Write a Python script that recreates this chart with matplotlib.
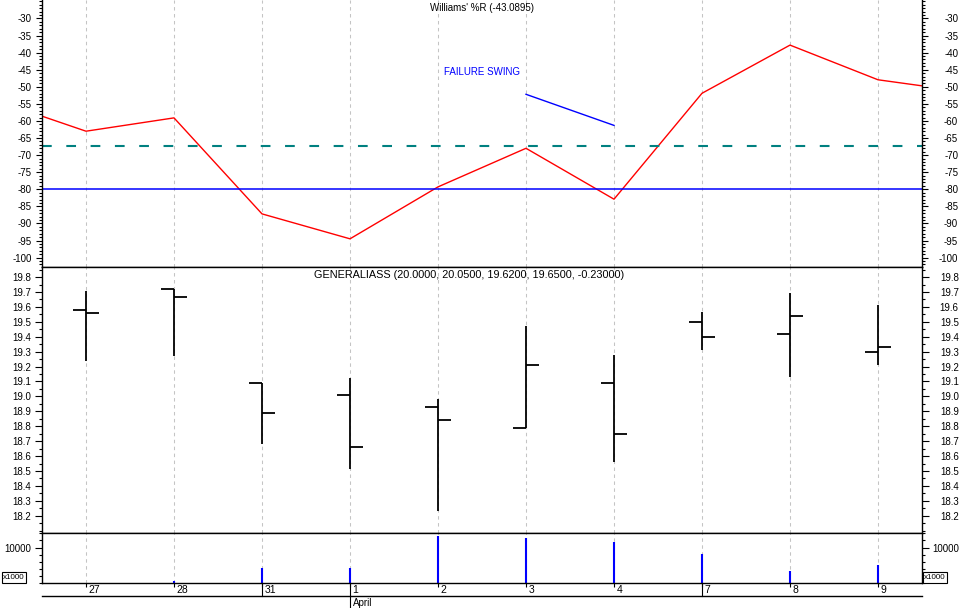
import matplotlib
matplotlib.use('Agg')
import matplotlib.pyplot as plt
import matplotlib.transforms as mtrans
from matplotlib.ticker import FixedLocator, MultipleLocator, FormatStrFormatter
import numpy as np

plt.rcParams['font.family'] = ['Liberation Sans', 'DejaVu Sans']
plt.rcParams['axes.unicode_minus'] = False
plt.rcParams['lines.scale_dashes'] = False

# trading days shown
dates = ['27', '28', '31', '1', '2', '3', '4', '7', '8', '9']
week_starts = [2, 7]      # index of mondays (long tick)
month_start = 3           # 1 April
month_name = 'April'

# Williams %R, one value before and after the window so the line runs off the edges
wr_x = list(range(-1, 11))
wr = [-54.2, -63.0, -59.1, -87.2, -94.5, -79.3, -68.0, -82.9, -51.9, -37.8, -47.95, -51.5]
wr_level = -80
wr_avg = -67.3
swing_x = [5, 6]
swing_y = [-52.2, -61.3]

# price bars
opens = [19.58, 19.72, 19.09, 19.01, 18.93, 18.79, 19.09, 19.50, 19.42, 19.30]
highs = [19.71, 19.72, 19.09, 19.12, 18.98, 19.47, 19.28, 19.565, 19.69, 19.61]
lows = [19.24, 19.27, 18.68, 18.51, 18.23, 18.79, 18.56, 19.31, 19.13, 19.21]
closes = [19.56, 19.665, 18.89, 18.66, 18.84, 19.21, 18.75, 19.40, 19.54, 19.33]

# volume (x1000)
volume = [0, 650, 4230, 4230, 13130, 12760, 11440, 8250, 3270, 4960]

W, H = 964, 608
fig = plt.figure(figsize=(W / 100, H / 100), dpi=100)


def px_axes(top, bottom, **kw):
    return fig.add_axes([42 / W, 1 - bottom / H, 880 / W, (bottom - top) / H], **kw)


def y_axis(ax, lim, major, minor, fmt, maj_len=4.5):
    """ticks + labels on both sides, right labels right-aligned"""
    tw = ax.twinx()
    for a in (ax, tw):
        a.set_ylim(lim)
        a.yaxis.set_major_locator(FixedLocator(major))
        a.yaxis.set_minor_locator(MultipleLocator(minor))
        a.yaxis.set_major_formatter(FormatStrFormatter(fmt))
        a.tick_params(axis='y', which='both', direction='out', labelsize=7, width=0.8)
        a.tick_params(axis='y', which='major', length=maj_len)
        a.tick_params(axis='y', which='minor', length=2)
    ax.tick_params(axis='y', which='major', pad=3)
    tw.tick_params(axis='y', which='major', pad=21.5)
    for t in tw.yaxis.get_major_ticks():
        t.label2.set_horizontalalignment('right')
    for s in tw.spines.values():
        s.set_visible(False)
    tw.tick_params(axis='x', which='both', bottom=False, labelbottom=False)
    return tw


ax_wr = px_axes(0, 266.5)
ax_px = px_axes(266.5, 533, sharex=ax_wr)
ax_vol = px_axes(533, 583, sharex=ax_wr)

x = np.arange(len(dates))
for ax in (ax_wr, ax_px, ax_vol):
    ax.set_xlim(-0.5, 9.5)
    ax.set_xticks(x)
    ax.grid(True, axis='x', color='#c4c4c4', lw=0.75, ls=(0, (2.5, 2.5)))
    ax.set_axisbelow(True)
    for s in ax.spines.values():
        s.set_linewidth(1)
ax_wr.spines['top'].set_visible(False)
ax_wr.tick_params(axis='x', bottom=False, labelbottom=False)
ax_px.tick_params(axis='x', bottom=False, labelbottom=False)

# Williams %R panel
ax_wr.plot(wr_x, wr, color='#ff0000', lw=1)
ax_wr.axhline(wr_level, color='#0000ff', lw=1.1)
ax_wr.axhline(wr_avg, color='#008080', lw=1.5, dashes=(7, 10.5))
ax_wr.plot(swing_x, swing_y, color='#0000ff', lw=1)
ax_wr.text(4.07, -45.8, 'FAILURE SWING', color='#0000ff', fontsize=7, va='center', ha='left')
ax_wr.text(0.5, 0.99, "Williams' %R (-43.0895)", transform=ax_wr.transAxes,
           ha='center', va='top', fontsize=7)
y_axis(ax_wr, (-102.6, -24.6), list(range(-100, -29, 5)), 1, '%d')

# price panel
ax_px.vlines(x, lows, highs, color='black', lw=1.3)
ax_px.hlines(opens, x - 0.15, x, color='black', lw=1.3)
ax_px.hlines(closes, x, x + 0.15, color='black', lw=1.3)
ax_px.text(0.485, 0.985, 'GENERALIASS (20.0000, 20.0500, 19.6200, 19.6500, -0.23000)',
           transform=ax_px.transAxes, ha='center', va='top', fontsize=7.8)
y_axis(ax_px, (18.084, 19.871), list(np.round(np.arange(18.2, 19.81, 0.1), 1)), 0.05, '%.1f', 5)

# volume panel
ax_vol.vlines(x, 0, volume, color='#0000ff', lw=1.5)
y_axis(ax_vol, (0, 14100), [10000], 2000, '%d', 5)
ax_vol.tick_params(axis='x', direction='out', length=3, width=0.8, labelbottom=False)

blend = mtrans.blended_transform_factory(ax_vol.transData, ax_vol.transAxes)
shift = blend + mtrans.ScaledTranslation(2.5 / 100, 0, fig.dpi_scale_trans)
for i, lab in enumerate(dates):
    ax_vol.text(i, -0.14, lab, transform=shift, ha='left', va='center', fontsize=7.5)
for i in week_starts:
    ax_vol.plot([i, i], [0, -0.26], transform=blend, clip_on=False, color='black', lw=0.8)
ax_vol.plot([month_start, month_start], [0, -0.52], transform=blend, clip_on=False,
            color='black', lw=0.8)
ax_vol.text(month_start, -0.40, month_name, transform=shift, ha='left', va='center', fontsize=7)
ax_vol.plot([0, 1], [-0.26, -0.26], transform=ax_vol.transAxes, clip_on=False,
            color='black', lw=1)

box = dict(boxstyle='square,pad=0.2', fc='white', ec='black', lw=0.8)
fig.text(14 / W, 1 - 577.5 / H, 'x1000', fontsize=5.8, ha='center', va='center', bbox=box)
fig.text(935 / W, 1 - 577.5 / H, 'x1000', fontsize=5.8, ha='center', va='center', bbox=box)

fig.savefig('out.png', dpi=100)
